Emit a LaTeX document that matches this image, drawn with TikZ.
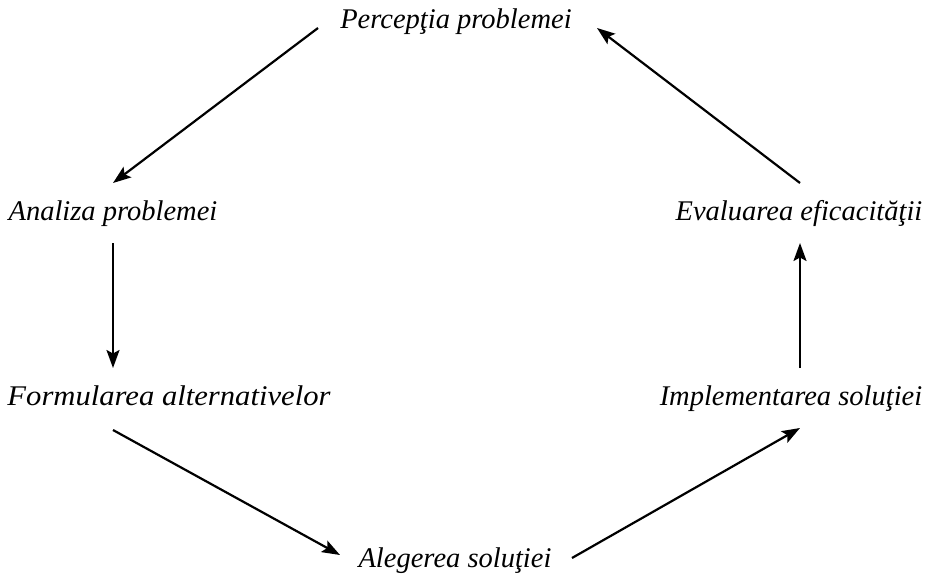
\documentclass[tikz,border=0pt]{standalone}
\usepackage{fontspec}
\usepackage{graphicx}
\setmainfont{Liberation Serif}
\usetikzlibrary{arrows.meta}
\tikzset{
  lbl/.style={font=\fontsize{28.5}{32}\selectfont\itshape, inner sep=0pt, anchor=base},
  flow/.style={line width=2.2pt, -{Stealth[length=18pt,width=13pt,inset=3.5pt]}}
}
\begin{document}
\begin{tikzpicture}[x=1pt,y=-1pt]
\useasboundingbox (0,0) rectangle (929,583);
\node[lbl] (p) at (456,29) {Percepţia problemei};
\node[lbl] (a) at (113,220) {Analiza problemei};
\node[lbl] (e) at (799,220) {Evaluarea eficacităţii};
\node[lbl] (f) at (169,405) {\scalebox{1.075}[1]{Formularea alternativelor}};
\node[lbl] (i) at (791,405) {Implementarea soluţiei};
\node[lbl] (s) at (455,567) {Alegerea soluţiei};
% connector end points
\coordinate (p1) at (318,28);
\coordinate (a1) at (113,183);
\coordinate (a2) at (113,243);
\coordinate (f1) at (113,368);
\coordinate (f2) at (113,430);
\coordinate (s1) at (340,555);
\coordinate (s2) at (572,558);
\coordinate (i1) at (800,428);
\coordinate (i2) at (800,368);
\coordinate (e1) at (800,243);
\coordinate (e2) at (800,183);
\coordinate (p2) at (597,28);
\draw[flow] (p1) -- (a1);
\draw[flow] (a2) -- (f1);
\draw[flow] (f2) -- (s1);
\draw[flow] (s2) -- (i1);
\draw[flow] (i2) -- (e1);
\draw[flow] (e2) -- (p2);
\end{tikzpicture}
\end{document}
